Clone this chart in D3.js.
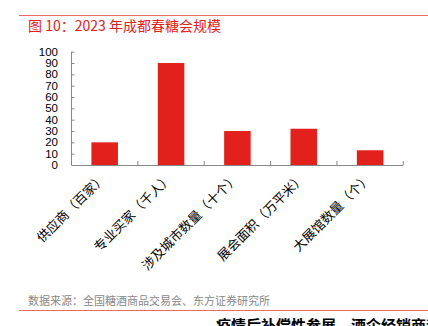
<!DOCTYPE html>
<html>
<head>
<meta charset="utf-8">
<script src="https://cdn.jsdelivr.net/npm/d3@7"></script>
<style>
  html, body { margin: 0; padding: 0; background: #fff; overflow: hidden; }
  svg { display: block; }
</style>
</head>
<body>
<script>
// 2023 成都春糖会规模
const categories = ["供应商（百家）", "专业买家（千人）", "涉及城市数量（十个）", "展会面积（万平米）", "大展馆数量（个）"];
const values = [20, 90, 30, 32, 13];
const yTicks = [0, 10, 20, 30, 40, 50, 60, 70, 80, 90, 100];

const W = 428, H = 326;
const margin = { left: 71.5, right: 24.7, top: 51.7, bottom: 161 };
const plotW = W - margin.left - margin.right;
const plotH = H - margin.top - margin.bottom;

const red = "#e2211c";
const axisGray = "#888";
const font = "'Liberation Sans', Arial, 'Noto Sans CJK SC', sans-serif";
const cjk = "'Noto Sans CJK SC', sans-serif";

const svg = d3.select("body").append("svg")
  .attr("width", W).attr("height", H);

// header rule and title
svg.append("line").attr("x1", 19).attr("x2", W).attr("y1", 15.5).attr("y2", 15.5)
  .attr("stroke", "#e86a66").attr("stroke-width", 1);
svg.append("text").attr("x", 28).attr("y", 31)
  .attr("font-family", cjk).attr("font-size", 14).attr("fill", red)
  .text("图 10：2023 年成都春糖会规模");

const g = svg.append("g").attr("transform", `translate(${margin.left},${margin.top})`);

const x = d3.scaleBand().domain(categories).range([0, plotW]).padding(0);
const y = d3.scaleLinear().domain([0, 100]).range([plotH, 0]);
const barW = x.bandwidth() * 0.4;

// bars
g.selectAll("rect.bar").data(values).join("rect")
  .attr("class", "bar")
  .attr("x", (d, i) => x(categories[i]) + (x.bandwidth() - barW) / 2)
  .attr("y", d => y(d))
  .attr("width", barW)
  .attr("height", d => plotH - y(d))
  .attr("fill", red);

// y axis
const yAxis = d3.axisRight(y).tickValues(yTicks).tickSize(3).tickFormat("");
const yg = g.append("g").call(yAxis);
yg.select(".domain").attr("stroke", axisGray).attr("d", `M0,0V${plotH}`);
yg.selectAll(".tick line").attr("stroke", axisGray);
g.append("g").selectAll("text").data(yTicks).join("text")
  .attr("x", -13.5).attr("y", d => y(d)).attr("dy", "0.36em")
  .attr("text-anchor", "end")
  .attr("font-family", font).attr("font-size", 11.5).attr("fill", "#000")
  .text(d => d);

// x axis with ticks at band boundaries
g.append("line").attr("x1", 0).attr("x2", plotW).attr("y1", plotH + 0.5).attr("y2", plotH + 0.5)
  .attr("stroke", axisGray).attr("stroke-width", 1);
const bounds = categories.map(c => x(c) + x.bandwidth());
g.selectAll("line.xt").data(bounds).join("line")
  .attr("class", "xt")
  .attr("x1", d => d).attr("x2", d => d)
  .attr("y1", plotH).attr("y2", plotH - 4)
  .attr("stroke", axisGray);

// rotated category labels
g.selectAll("text.xl").data(categories).join("text")
  .attr("class", "xl")
  .attr("transform", c => `translate(${x(c) + x.bandwidth() / 2 + 2},${plotH + 14}) rotate(-45)`)
  .attr("text-anchor", "end")
  .attr("font-family", cjk).attr("font-size", 13).attr("fill", "#000")
  .text(c => c);

// source note and footer
svg.append("text").attr("x", 28).attr("y", 305)
  .attr("font-family", cjk).attr("font-size", 11).attr("fill", "#888")
  .text("数据来源：全国糖酒商品交易会、东方证券研究所");
svg.append("line").attr("x1", 19).attr("x2", W).attr("y1", 310.5).attr("y2", 310.5)
  .attr("stroke", "#e86a66").attr("stroke-width", 1);
svg.append("text").attr("x", 216).attr("y", 331)
  .attr("font-family", cjk).attr("font-size", 15).attr("font-weight", "bold").attr("fill", "#000")
  .text("疫情后补偿性参展，酒企经销商动");
</script>
</body>
</html>
